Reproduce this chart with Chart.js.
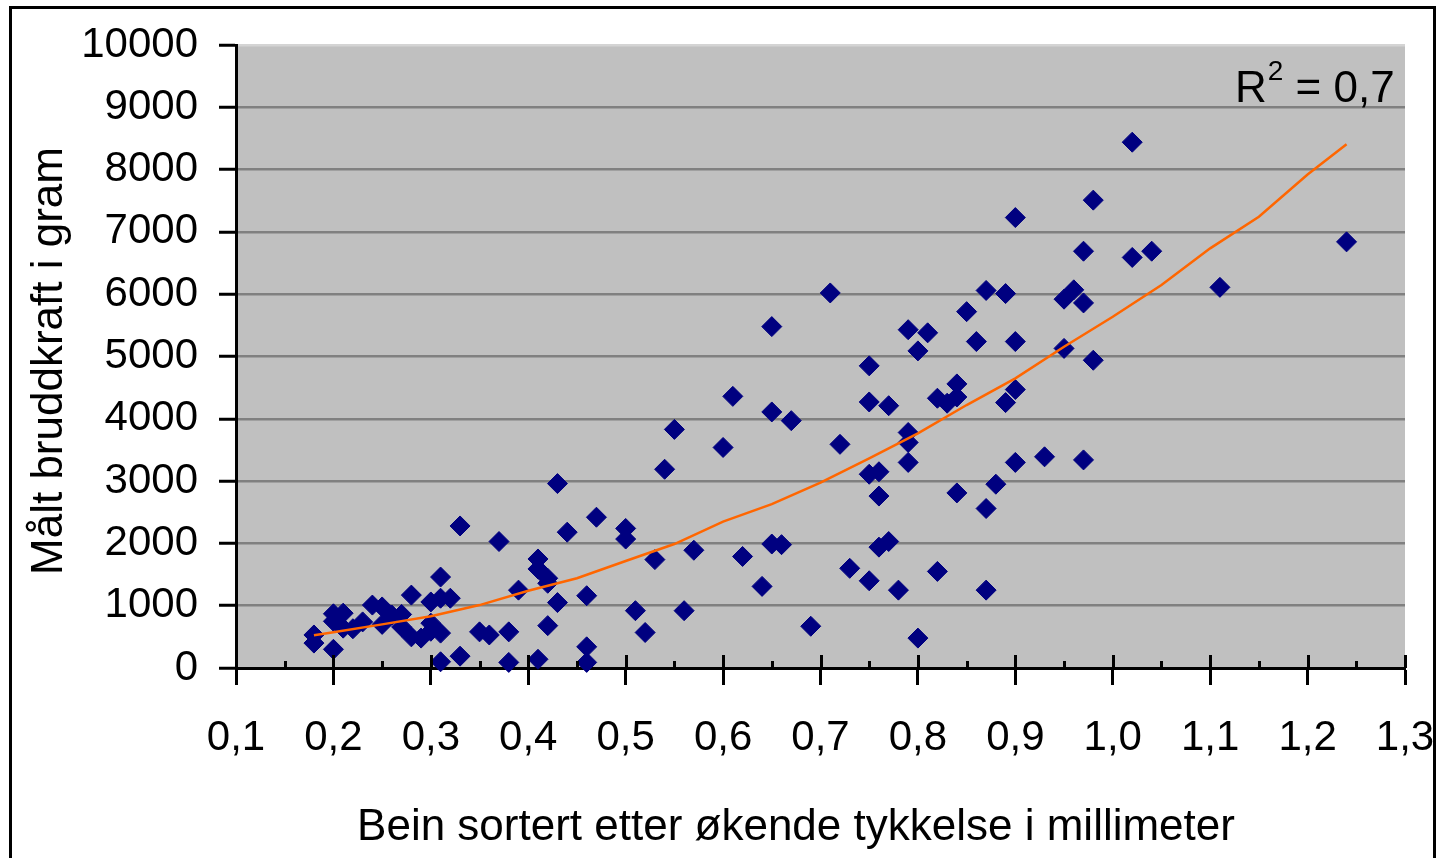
<!DOCTYPE html>
<html>
<head>
<meta charset="utf-8">
<script src="https://cdn.jsdelivr.net/npm/chart.js@4"></script>
<style>
html,body{margin:0;padding:0;background:#fff;}
#wrap{position:relative;width:1441px;height:858px;}
canvas{display:block;}
</style>
</head>
<body>
<div id="wrap"><canvas id="c" width="1441" height="858"></canvas></div>
<script>
// ---- data ----
const xTickValues = [0.1,0.2,0.3,0.4,0.5,0.6,0.7,0.8,0.9,1.0,1.1,1.2,1.3];
const xTickLabels = ['0,1','0,2','0,3','0,4','0,5','0,6','0,7','0,8','0,9','1,0','1,1','1,2','1,3'];
const yTickValues = [0,1000,2000,3000,4000,5000,6000,7000,8000,9000,10000];
const yTickLabels = ['0','1000','2000','3000','4000','5000','6000','7000','8000','9000','10000'];

const boneThickness = [
  0.18,0.18, 0.20,0.20,0.20, 0.21,0.21, 0.22, 0.23, 0.24, 0.25,0.25, 0.26, 0.27,0.27,
  0.28,0.28, 0.29, 0.30,0.30,0.30, 0.31,0.31,0.31,0.31, 0.32, 0.33,0.33, 0.35, 0.36,
  0.37, 0.38,0.38, 0.39, 0.41,0.41,0.41, 0.42,0.42,0.42, 0.43,0.43, 0.44, 0.46,0.46,0.46,
  0.47, 0.50,0.50, 0.51, 0.52, 0.53, 0.54, 0.55, 0.56, 0.57, 0.60, 0.61, 0.62, 0.64,
  0.65,0.65,0.65, 0.66, 0.67, 0.69, 0.71, 0.72, 0.73, 0.75,0.75,0.75,0.75, 0.76,0.76,0.76,
  0.77,0.77, 0.78, 0.79,0.79,0.79,0.79, 0.80,0.80, 0.81, 0.82,0.82, 0.83, 0.84,0.84,0.84,
  0.85, 0.86, 0.87,0.87,0.87, 0.88, 0.89,0.89, 0.90,0.90,0.90,0.90, 0.93, 0.95,0.95, 0.96,
  0.97,0.97,0.97, 0.98,0.98, 1.02,1.02, 1.04, 1.11, 1.24
];
const breakForce = [
  530,400, 870,750,300, 880,640, 630, 740, 1010, 980,700, 850, 860,660,
  1170,500, 480, 1060,720,590, 1460,1120,560,100, 1120, 2280,190, 580, 530,
  2030, 580,90, 1250, 1750,1590,140, 1440,1360,680, 2960,1050, 2180, 1160,340,90,
  2420, 2240,2070, 920, 570, 1740, 3190, 3830, 920, 1890, 3540, 4360, 1790, 1310,
  5480,4110,1990, 1980, 3970, 670, 6020, 3590, 1600, 4850,4270,3110,1400, 3150,2760,1940,
  4210,2030, 1250, 5430,3780,3620,3300, 5090,480, 5380, 4330,1550, 4250, 4560,4350,2810,
  5720, 5240, 6060,2560,1250, 2950, 6010,4260, 7230,5240,4470,3300, 3390, 5920,5130, 6070,
  6690,5860,3340, 7510,4940, 8440,6590, 6690, 6110, 6840
];

// trend line
const trendX = [0.18,0.20,0.25,0.30,0.35,0.40,0.45,0.50,0.55,0.60,0.65,0.70,0.75,0.80,0.85,0.90,0.95,1.00,1.05,1.10,1.15,1.20,1.24];
const trendY = [525,573,700,830,1010,1240,1440,1717,1990,2350,2630,2975,3366,3767,4221,4650,5157,5639,6148,6736,7244,7920,8406];

const xTitle = 'Bein sortert etter økende tykkelse i millimeter';
const yTitle = 'Målt bruddkraft i gram';
const r2Label = ['R', '2', ' = 0,7'];

// ---- rendering ----
const FONT = '"Liberation Sans", Arial, sans-serif';

const points = boneThickness.map((x, i) => ({ x: x, y: breakForce[i] }));
const trend = trendX.map((x, i) => ({ x: x, y: trendY[i] }));

const decor = {
  id: 'decor',
  beforeDraw(chart) {
    const { ctx, chartArea: a } = chart;
    ctx.save();
    ctx.fillStyle = '#ffffff';
    ctx.fillRect(0, 0, chart.width, chart.height);
    ctx.fillStyle = '#C0C0C0';
    ctx.fillRect(a.left, a.top, a.right - a.left, a.bottom - a.top);
    ctx.restore();
  },
  afterDraw(chart) {
    const { ctx, chartArea: a } = chart;
    const xs = chart.scales.x;
    ctx.save();
    // upper part of major ticks and minor ticks on x axis
    ctx.strokeStyle = '#000';
    ctx.lineWidth = 3;
    xTickValues.forEach((v, i) => {
      const px = Math.round(xs.getPixelForValue(v)) + 0.5;
      ctx.beginPath(); ctx.moveTo(px, a.bottom - 13); ctx.lineTo(px, a.bottom); ctx.stroke();
      if (i < xTickValues.length - 1) {
        const mx = Math.round(xs.getPixelForValue((v + xTickValues[i + 1]) / 2)) + 0.5;
        ctx.beginPath(); ctx.moveTo(mx, a.bottom - 7); ctx.lineTo(mx, a.bottom); ctx.stroke();
      }
    });
    // outer chart border
    ctx.lineWidth = 3;
    ctx.strokeRect(10.5, 7.5, 1424, 870);
    // axis titles
    ctx.fillStyle = '#000';
    ctx.font = '44px ' + FONT;
    ctx.textAlign = 'center';
    ctx.textBaseline = 'alphabetic';
    ctx.fillText(xTitle, 796, 840);
    ctx.save();
    ctx.translate(62, 361);
    ctx.rotate(-Math.PI / 2);
    ctx.fillText(yTitle, 0, 0);
    ctx.restore();
    // R^2 label
    ctx.textAlign = 'left';
    let x0 = 1235;
    ctx.font = '44px ' + FONT;
    ctx.fillText(r2Label[0], x0, 102);
    x0 += ctx.measureText(r2Label[0]).width + 1;
    ctx.font = '28px ' + FONT;
    ctx.fillText(r2Label[1], x0, 80);
    x0 += ctx.measureText(r2Label[1]).width;
    ctx.font = '44px ' + FONT;
    ctx.fillText(r2Label[2], x0, 102);
    ctx.restore();
  }
};

new Chart(document.getElementById('c'), {
  type: 'scatter',
  data: {
    datasets: [
      {
        label: 'Trend',
        data: trend,
        showLine: true,
        borderColor: '#FF6600',
        borderWidth: 2.5,
        pointRadius: 0,
        fill: false,
        tension: 0,
        order: 0
      },
      {
        label: 'Bruddkraft',
        data: points,
        pointStyle: 'rectRot',
        pointRadius: 10,
        pointBackgroundColor: '#000080',
        pointBorderColor: '#000080',
        pointBorderWidth: 1,
        showLine: false,
        clip: false,
        order: 1
      }
    ]
  },
  options: {
    responsive: false,
    animation: false,
    devicePixelRatio: 1,
    layout: { padding: { top: 45, right: 36, left: 0, bottom: 0 } },
    plugins: { legend: { display: false }, tooltip: { enabled: false } },
    scales: {
      x: {
        type: 'linear',
        min: 0.1, max: 1.3,
        afterBuildTicks: s => { s.ticks = xTickValues.map(v => ({ value: v })); },
        afterFit: s => { s.height = 190; s.paddingLeft = 0; s.paddingRight = 0; },
        ticks: {
          callback: (v, i) => xTickLabels[i],
          font: { family: FONT, size: 42 },
          color: '#000',
          padding: 28,
          maxRotation: 0,
          autoSkip: false
        },
        grid: { drawOnChartArea: false, drawTicks: true, tickLength: 17, tickColor: '#000', tickWidth: 3 },
        border: { display: true, color: '#000', width: 3 }
      },
      y: {
        type: 'linear',
        min: 0, max: 10000,
        afterBuildTicks: s => { s.ticks = yTickValues.map(v => ({ value: v })); },
        afterFit: s => { s.width = 236; s.paddingTop = 0; s.paddingBottom = 0; },
        ticks: {
          callback: (v, i) => yTickLabels[i],
          font: { family: FONT, size: 42 },
          color: '#000',
          padding: 21
        },
        grid: {
          color: c => (c.tick && c.tick.value === 0) ? 'rgba(0,0,0,0)' : (c.tick && c.tick.value === 10000 ? '#D4D4D4' : '#808080'),
          lineWidth: 2.5,
          drawTicks: true, tickLength: 17, tickColor: '#000', tickWidth: 3
        },
        border: { display: true, color: '#000', width: 3 }
      }
    }
  },
  plugins: [decor]
});
</script>
</body>
</html>
